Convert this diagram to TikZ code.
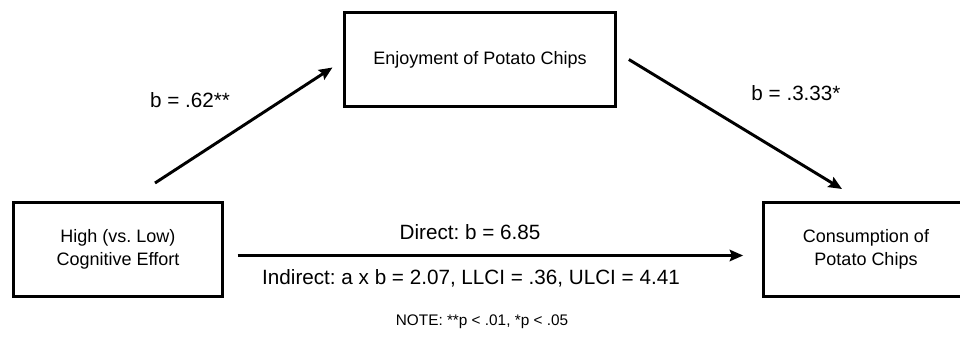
\documentclass[tikz,border=0pt]{standalone}
\usepackage{fontspec}
\setmainfont{Liberation Sans}
\frenchspacing
\usetikzlibrary{arrows.meta,positioning}
\tikzset{
    %Define standard arrow tip
    >={Stealth[length=10pt,width=8.5pt,inset=1.5pt]},
    %Define style for boxes
    varbox/.style={
           rectangle,
           draw=black, line width=2.3pt,
           minimum height=71pt,
           align=center,
           font=\fontsize{13.5}{17}\selectfont},
    % Define arrow style
    pil/.style={
           ->,
           line width=2.2pt},
    % path labels
    coef/.style={font=\fontsize{15.5}{18}\selectfont}
}
\begin{document}
\begin{tikzpicture}[x=0.75pt,y=-0.75pt]
\useasboundingbox (0,0) rectangle (960,343);
 %nodes
\node[varbox, minimum width=157pt](effort) at (118,249.5){High (vs. Low)\\Cognitive Effort};
\node[varbox, minimum width=203pt, minimum height=70.5pt](enjoy) at (480,59.5){Enjoyment of Potato Chips};
\node[varbox, minimum width=154pt](cons) at (866,249.5){Consumption of\\Potato Chips};

 %free arrow ends
\coordinate (a1) at (155,183);
\coordinate (a2) at ([xshift=-8pt,yshift=-6pt]enjoy.west);
\coordinate (b1) at ([xshift=9pt]enjoy.east);
\coordinate (b2) at (842,189);
\coordinate (c1) at ([xshift=10pt,yshift=-4.5pt]effort.east);
\coordinate (c2) at ([xshift=-14pt,yshift=-4.5pt]cons.west);

\draw[pil] (a1) -- (a2);
\draw[pil] (b1) -- (b2);
\draw[pil] (c1) -- (c2);

 %labels
\node[coef](lab a) at (190,100){b = .62**};
\node[coef](lab b) at (796,93){b = .3.33*};
\node[coef](direct) at (470,232){Direct: b = 6.85};
\node[coef](indirect) at (471,278){Indirect: a x b = 2.07, LLCI = .36, ULCI = 4.41};
\node[font=\fontsize{11.5}{14}\selectfont](note) at (482,322){NOTE: **p < .01, *p < .05};
\end{tikzpicture}
\end{document}
